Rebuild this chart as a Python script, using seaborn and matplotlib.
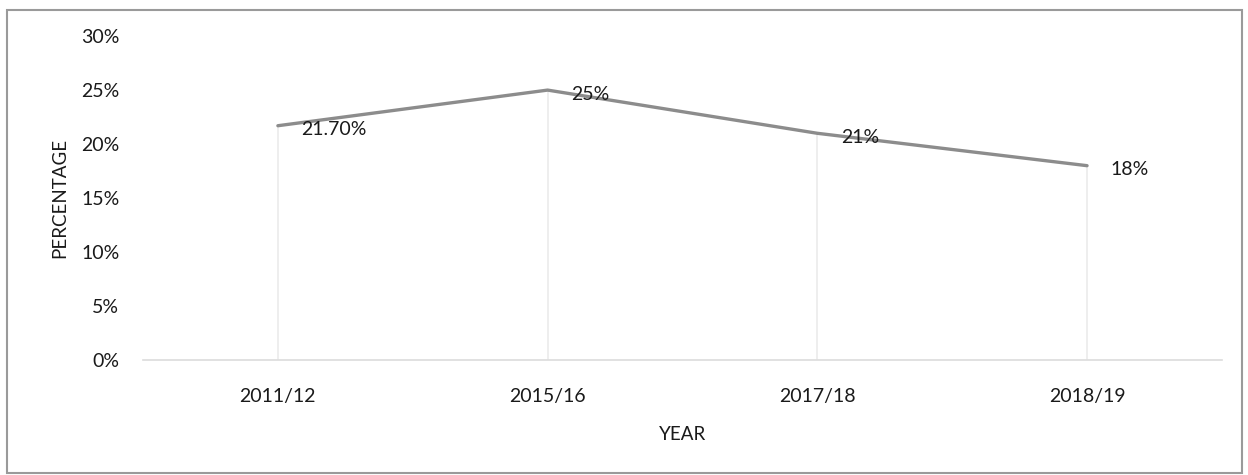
import matplotlib
matplotlib.use("Agg")
import matplotlib.pyplot as plt
import seaborn as sns
import pandas as pd
from matplotlib.patches import Rectangle

years = ["2011/12", "2015/16", "2017/18", "2018/19"]
values = [21.7, 25.0, 21.0, 18.0]
labels = ["21.70%", "25%", "21%", "18%"]
yticks = [0, 5, 10, 15, 20, 25, 30]
ytick_labels = ["0%", "5%", "10%", "15%", "20%", "25%", "30%"]

sns.set_theme(style="white")
plt.rcParams["font.family"] = ["Lato", "DejaVu Sans"]

df = pd.DataFrame({"year": years, "value": values})

fig = plt.figure(figsize=(12.48, 4.75), dpi=100)
ax = fig.add_axes([0.1146, 0.242, 0.8645, 0.682])

sns.lineplot(data=df, x="year", y="value", ax=ax, color="#8c8c8c",
             linewidth=2.4, sort=False)

# drop lines
ax.vlines(range(len(years)), 0, values, colors="#ebebeb", linewidth=1.2, zorder=1)

for i, (v, lab) in enumerate(zip(values, labels)):
    ax.annotate(lab, (i, v), xytext=(17, -3), textcoords="offset points",
                ha="left", va="center", fontsize=14, color="#1a1a1a")

ax.set_xlim(-0.5, len(years) - 0.5)
ax.set_ylim(0, 30)
ax.set_yticks(yticks)
ax.set_yticklabels(ytick_labels)
ax.tick_params(axis="y", length=0, pad=17, labelsize=14, labelcolor="#1a1a1a")
ax.tick_params(axis="x", length=0, pad=20, labelsize=14, labelcolor="#1a1a1a")
for s in ["top", "right", "left"]:
    ax.spines[s].set_visible(False)
ax.spines["bottom"].set_color("#dcdcdc")
ax.spines["bottom"].set_linewidth(1.2)
ax.grid(False)

ax.set_xlabel("YEAR", fontsize=13.5, color="#1a1a1a", labelpad=15)
ax.set_ylabel("PERCENTAGE", fontsize=13.5, color="#1a1a1a", labelpad=9)

fig.patches.append(Rectangle((0.0055, 0.004), 0.99, 0.976, transform=fig.transFigure,
                             fill=False, edgecolor="#9a9a9a", linewidth=1.5))

fig.savefig("out.png", dpi=100, facecolor="white")
